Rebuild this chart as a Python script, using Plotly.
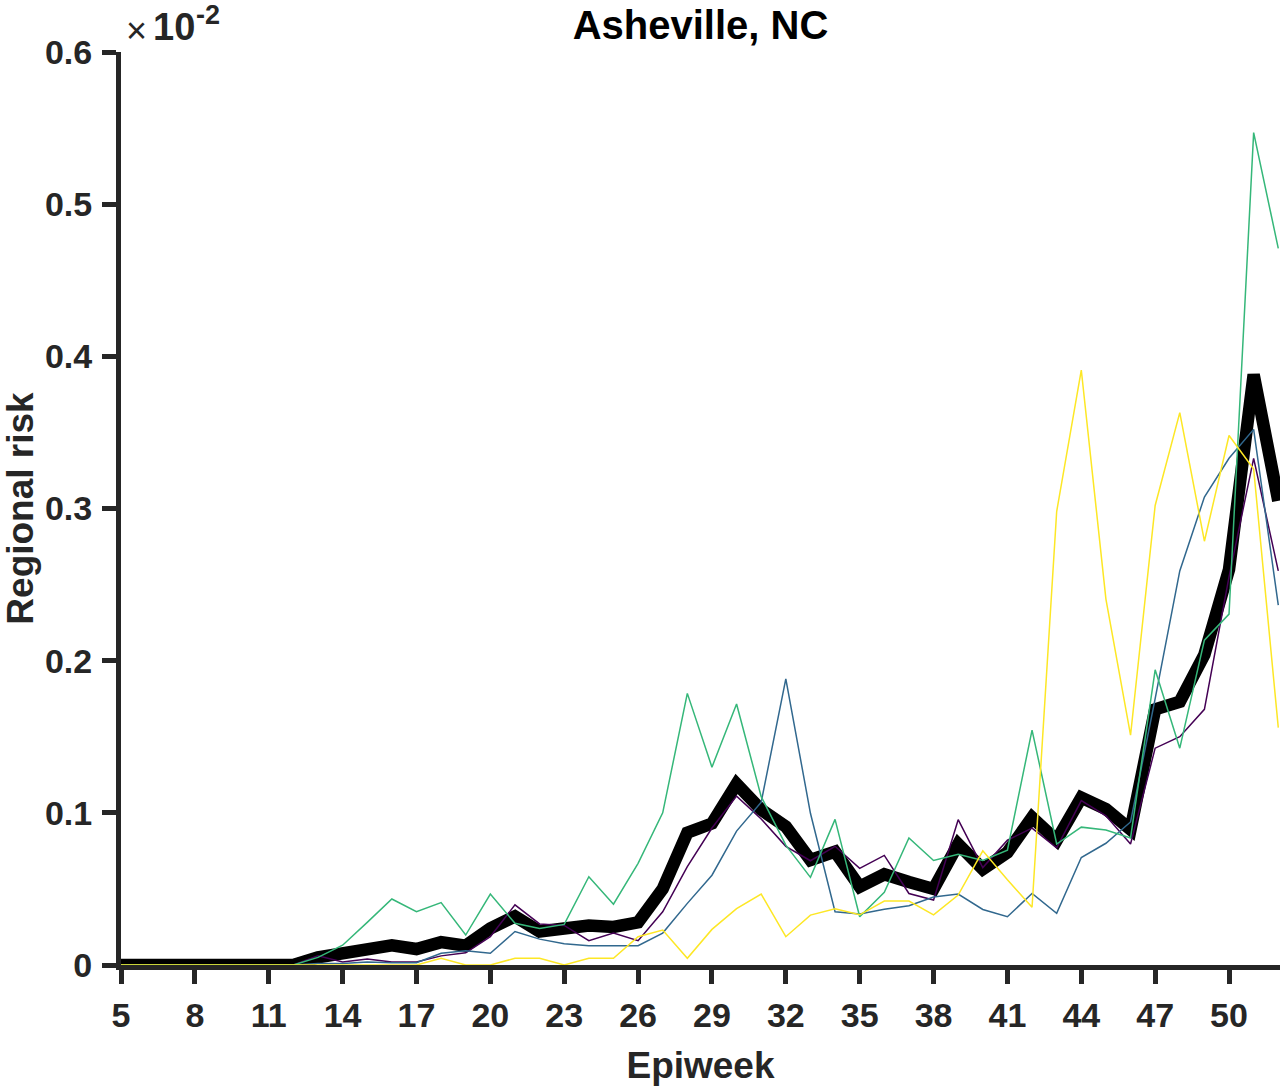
import plotly.graph_objects as go

weeks = list(range(5, 53))

mean_risk = [0, 0, 0, 0, 0, 0, 0, 0,
             0.005, 0.007, 0.011, 0.013, 0.0105, 0.015, 0.0127, 0.024, 0.032, 0.022,
             0.024, 0.026, 0.025, 0.028, 0.050, 0.087, 0.093, 0.119, 0.102, 0.091,
             0.069, 0.0745, 0.0515, 0.0596, 0.0545, 0.050, 0.0795, 0.063, 0.074, 0.097,
             0.082, 0.110, 0.1025, 0.089, 0.168, 0.173, 0.204, 0.260, 0.388, 0.305]

series_purple = [0, 0, 0, 0, 0, 0, 0, 0,
                 0.006, 0.002, 0.004, 0.002, 0.002, 0.006, 0.008, 0.0186, 0.0395, 0.027,
                 0.026, 0.016, 0.021, 0.016, 0.035, 0.0646, 0.090, 0.111, 0.096, 0.078,
                 0.0685, 0.078, 0.0635, 0.072, 0.047, 0.0427, 0.0955, 0.064, 0.082, 0.090,
                 0.077, 0.108, 0.098, 0.0795, 0.1425, 0.150, 0.168, 0.255, 0.333, 0.259]

series_blue = [0, 0, 0, 0, 0, 0, 0, 0,
               0.001, 0.001, 0.002, 0.0015, 0.0015, 0.0077, 0.0094, 0.0077, 0.022, 0.017,
               0.014, 0.0127, 0.0127, 0.0127, 0.021, 0.0405, 0.059, 0.088, 0.107, 0.188,
               0.0997, 0.035, 0.0335, 0.0366, 0.039, 0.0447, 0.0466, 0.0365, 0.0317, 0.047,
               0.034, 0.0706, 0.080, 0.094, 0.175, 0.259, 0.3075, 0.333, 0.352, 0.2365]

series_green = [0, 0, 0, 0, 0, 0, 0, 0,
                0.005, 0.013, 0.028, 0.0434, 0.035, 0.041, 0.0197, 0.0466, 0.0274, 0.024,
                0.0267, 0.058, 0.040, 0.0668, 0.100, 0.1785, 0.130, 0.1715, 0.1106, 0.0788,
                0.0576, 0.0957, 0.0317, 0.0478, 0.0835, 0.0687, 0.0727, 0.0687, 0.0755, 0.1544,
                0.0795, 0.0906, 0.0887, 0.0835, 0.194, 0.1425, 0.2135, 0.2306, 0.547, 0.471]

series_yellow = [0, 0, 0, 0, 0, 0, 0, 0,
                 0, 0, 0, 0, 0, 0.0044, 0, 0, 0.0044, 0.0044,
                 0, 0.0044, 0.0044, 0.0186, 0.023, 0.0044, 0.0234, 0.037, 0.0466, 0.0186,
                 0.0328, 0.037, 0.033, 0.042, 0.042, 0.033, 0.046, 0.075, 0.056, 0.038,
                 0.298, 0.391, 0.2405, 0.151, 0.302, 0.363, 0.2785, 0.348, 0.326, 0.156]

x_ticks = list(range(5, 51, 3))
y_ticks = [0, 0.1, 0.2, 0.3, 0.4, 0.5, 0.6]
y_tick_labels = ["0", "0.1", "0.2", "0.3", "0.4", "0.5", "0.6"]

FONT = "Liberation Sans, Arial, Helvetica, sans-serif"
AX = "#262626"

fig = go.Figure()
fig.add_trace(go.Scatter(x=weeks, y=mean_risk, mode="lines",
                         line=dict(color="black", width=12.5), showlegend=False))
for ys, col in [(series_purple, "#440154"), (series_blue, "#31688e"),
                (series_green, "#35b779"), (series_yellow, "#fde725")]:
    fig.add_trace(go.Scatter(x=weeks, y=ys, mode="lines",
                             line=dict(color=col, width=1.5), showlegend=False))

W, H = 1288, 1086
fig.update_layout(
    width=W, height=H,
    margin=dict(l=121, r=8, t=52, b=H - 965, autoexpand=False),
    paper_bgcolor="white", plot_bgcolor="white",
    font=dict(family=FONT, color=AX),
    title=dict(text="<b>Asheville, NC</b>", x=0.5, xref="paper", y=1 - 25 / H,
               yanchor="middle", xanchor="center",
               font=dict(family=FONT, size=40, color="black")),
    xaxis=dict(range=[5, 52.07], tickmode="array", tickvals=x_ticks,
               ticktext=[f"<b>{t}</b>" for t in x_ticks],
               showgrid=False, zeroline=False, showline=True, linecolor=AX, linewidth=5,
               ticks="outside", ticklen=14, tickwidth=5, tickcolor=AX,
               tickfont=dict(family=FONT, size=34, color=AX), ticklabelstandoff=2,
               layer="below traces",
               title=dict(text="<b>Epiweek</b>", standoff=25,
                          font=dict(family=FONT, size=37, color=AX))),
    yaxis=dict(range=[0, 0.6], tickmode="array", tickvals=y_ticks,
               ticktext=[f"<b>{t}</b>" for t in y_tick_labels],
               showgrid=False, zeroline=False, showline=True, linecolor=AX, linewidth=5,
               ticks="outside", ticklen=14, tickwidth=5, tickcolor=AX,
               tickfont=dict(family=FONT, size=34, color=AX), ticklabelstandoff=3,
               layer="below traces",
               title=dict(text="<b>Regional risk</b>", standoff=47,
                          font=dict(family=FONT, size=37, color=AX))),
)

# exponent label (×10^-2) above the y axis
fig.add_annotation(xref="paper", yref="paper", x=0, y=1, xanchor="left", yanchor="middle",
                   xshift=3, yshift=22, showarrow=False, text="×",
                   font=dict(family=FONT, size=36, color=AX))
fig.add_annotation(xref="paper", yref="paper", x=0, y=1, xanchor="left", yanchor="middle",
                   xshift=30, yshift=25, showarrow=False, text="<b>10</b>",
                   font=dict(family=FONT, size=38, color=AX))
fig.add_annotation(xref="paper", yref="paper", x=0, y=1, xanchor="left", yanchor="middle",
                   xshift=73, yshift=37, showarrow=False, text="<b>-2</b>",
                   font=dict(family=FONT, size=27, color=AX))

fig.write_html("out.html", config={"displayModeBar": False},
               post_script="document.body.style.margin='0px';")
